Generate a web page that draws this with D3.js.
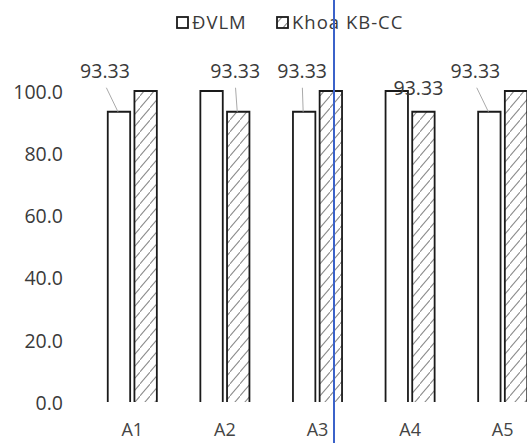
<!DOCTYPE html>
<html><head><meta charset="utf-8">
<script src="https://cdn.jsdelivr.net/npm/d3@7"></script>
<style>body{margin:0;background:#fff}svg{display:block}</style>
</head><body>
<script>
const categories = ["A1","A2","A3","A4","A5"];
const seriesNames = ["ĐVLM","Khoa KB-CC"];
const dvlm = [93.33, 100, 93.33, 100, 93.33];
const khoa = [100, 93.33, 100, 93.33, 100];
const yTicks = [0,20,40,60,80,100];

const W=527,H=443;
const svg=d3.select("body").append("svg").attr("width",W).attr("height",H);
const defs=svg.append("defs");
const pat=defs.append("pattern").attr("id","hatch").attr("patternUnits","userSpaceOnUse")
  .attr("width",10).attr("height",12);
pat.append("rect").attr("width",10).attr("height",12).attr("fill","#fff");
pat.append("path").attr("d","M-1,13 L11,-1").attr("stroke","#8a8a8a").attr("stroke-width",1.1);

const font="'Open Sans', sans-serif";
const x=d3.scaleBand().domain(categories).range([86,549]).paddingInner(0.47).paddingOuter(0.235);
const xs=d3.scaleBand().domain(seriesNames).range([0,x.bandwidth()]).paddingInner(0.16);
const y=d3.scaleLinear().domain([0,100]).range([402,91]);

// y axis labels
const yAxis=d3.axisLeft(y).tickValues(yTicks).tickFormat(d3.format(".1f")).tickSize(0).tickPadding(0);
const ga=svg.append("g").attr("transform","translate(63,1)").call(yAxis);
ga.select(".domain").remove();
ga.selectAll("text").attr("font-family",font).attr("font-size",19.5).attr("fill","#3a3a3a");

// x labels
const xAxis=d3.axisBottom(x).tickSize(0).tickPadding(0);
const gx=svg.append("g").attr("transform","translate(0,423)").call(xAxis);
gx.select(".domain").remove();
gx.selectAll("text").attr("font-family",font).attr("font-size",18).attr("fill","#444");

const data=[];
categories.forEach((c,i)=>{
  data.push({c,s:seriesNames[0],v:dvlm[i]});
  data.push({c,s:seriesNames[1],v:khoa[i]});
});
svg.append("g").selectAll("path").data(data).join("path")
  .attr("d",d=>{const x0=x(d.c)+xs(d.s),x1=x0+xs.bandwidth();return `M${x0},${y(0)}V${y(d.v)}H${x1}V${y(0)}`;})
  .attr("fill",d=>d.s===seriesNames[1]?"url(#hatch)":"#fff")
  .attr("stroke","#1a1a1a").attr("stroke-width",1.8);

// data labels (for 93.33 values) with leader lines
const labelLayout=[
  {c:"A1",s:0,dx:-14,dy:-41,leader:true},
  {c:"A2",s:1,dx:-3,dy:-41,leader:true},
  {c:"A3",s:0,dx:-2,dy:-41,leader:true},
  {c:"A4",s:1,dx:-5,dy:-24,leader:false},
  {c:"A5",s:0,dx:-14,dy:-41,leader:true}
];
const lg=svg.append("g");
labelLayout.forEach(L=>{
  const i=categories.indexOf(L.c);
  const v=(L.s===0?dvlm:khoa)[i];
  const bx=x(L.c)+xs(seriesNames[L.s])+xs.bandwidth()/2;
  const by=y(v);
  const tx=bx+L.dx, ty=by+L.dy;
  if(L.leader){
    lg.append("line").attr("x1",tx+(bx-tx)*0.1).attr("y1",ty+17).attr("x2",bx-1).attr("y2",by)
      .attr("stroke","#aaa").attr("stroke-width",1);
  }
  lg.append("text").attr("x",tx).attr("y",ty).attr("dy","0.35em").attr("text-anchor","middle")
    .attr("font-family",font).attr("font-size",19.5).attr("fill","#3a3a3a").text(d3.format(".2f")(v));
});

// legend
const legend=svg.append("g").attr("transform","translate(177,23)");
const legX=[0,100];
seriesNames.forEach((n,i)=>{
  const g=legend.append("g").attr("transform",`translate(${legX[i]},0)`);
  g.append("rect").attr("x",0).attr("y",-6).attr("width",11).attr("height",11)
    .attr("fill",i===1?"url(#hatch)":"#fff").attr("stroke","#1a1a1a").attr("stroke-width",1.8);
  g.append("text").attr("x",15).attr("y",0).attr("dy","0.35em").attr("font-family",font)
    .attr("font-size",18.5).attr("letter-spacing",1).attr("fill","#3a3a3a").text(n);
});

// blue scan line
svg.append("line").attr("x1",334).attr("x2",334).attr("y1",0).attr("y2",H)
  .attr("stroke","#3b62c9").attr("stroke-width",2);
</script>
</body></html>
